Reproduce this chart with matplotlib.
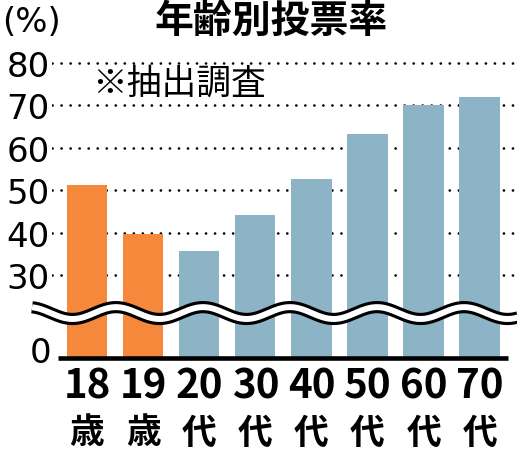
import numpy as np
import matplotlib
matplotlib.use("Agg")
import matplotlib.pyplot as plt
from matplotlib.transforms import offset_copy

plt.rcParams['font.family'] = ['Noto Sans CJK JP', 'DejaVu Sans']
plt.rcParams['lines.scale_dashes'] = False

# turnout by age group (%)
ages = ["18", "19", "20", "30", "40", "50", "60", "70"]
units = ["歳", "歳", "代", "代", "代", "代", "代", "代"]
turnout = [51.2, 39.7, 35.6, 44.2, 52.6, 63.3, 70.1, 72.0]
teen = [True, True, False, False, False, False, False, False]
yticks = [30, 40, 50, 60, 70, 80]

ORANGE = "#F5883A"
BLUE = "#8CB4C6"
CUT = 10.4  # values above the axis break are drawn lowered by this much

W, H = 517, 452
fig = plt.figure(figsize=(W / 100, H / 100), dpi=100)
ax = fig.add_axes([52 / W, (H - 359) / H, 1 - 52 / W, (359 - 40) / H])
ax.set_xlim(-0.624, 7.665)
ax.set_ylim(0, 75.24)
for s in ax.spines.values():
    s.set_visible(False)

x = np.arange(len(ages))
heights = [v - CUT for v in turnout]
colors = [ORANGE if t else BLUE for t in teen]
ax.bar(x, heights, width=0.72, color=colors, zorder=2)

# dotted grid
for t in yticks:
    ax.axhline(t - CUT, color='black', lw=1.9, ls=(0, (0.1, 6.4)),
               dash_capstyle='round', zorder=1)
ax.set_yticks([t - CUT for t in yticks])
ax.set_yticklabels([str(t) for t in yticks], family='DejaVu Sans', fontsize=24.5)
ax.tick_params(axis='y', length=0, pad=1.5)
ax.set_xticks([])

ax.text(0, 0, "0", family='DejaVu Sans', fontsize=24.5, ha='right', va='center',
        transform=offset_copy(ax.get_yaxis_transform(), fig=fig, x=-1, y=5, units='dots'))

# baseline
ax.hlines(0, -0.52, 7.5, color='black', lw=3.3, zorder=4, clip_on=False)

# axis break
wx = np.linspace(-0.98, 7.7, 500)
wy = 10.6 + 1.4 * np.cos(2 * np.pi * (wx + 1.034) / 1.551)
ax.plot(wx, wy, color='black', lw=8.8, solid_capstyle='butt', clip_on=False, zorder=5)
ax.plot(wx, wy, color='white', lw=4.3, solid_capstyle='butt', clip_on=False, zorder=6)

# category labels
num_tr = offset_copy(ax.transData, fig=fig, x=0, y=-28, units='dots')
unit_tr = offset_copy(ax.transData, fig=fig, x=0, y=-74, units='dots')
for i, (a, u) in enumerate(zip(ages, units)):
    ax.text(i, 0, a, transform=num_tr, ha='center', va='center',
            fontsize=29, weight='bold')
    ax.text(i, 0, u, transform=unit_tr, ha='center', va='center',
            fontsize=25, weight='bold')

fig.text(271 / W, 1 - 21 / H, "年齢別投票率", fontsize=28, weight='bold',
         ha='center', va='center')
fig.text(2 / W, 1 - 22 / H, "(%)", family='DejaVu Sans', fontsize=24.5,
         ha='left', va='center')
fig.text(92 / W, 1 - 84 / H, "※抽出調査", fontsize=25, ha='left', va='center')

fig.savefig("out.png", dpi=100)
